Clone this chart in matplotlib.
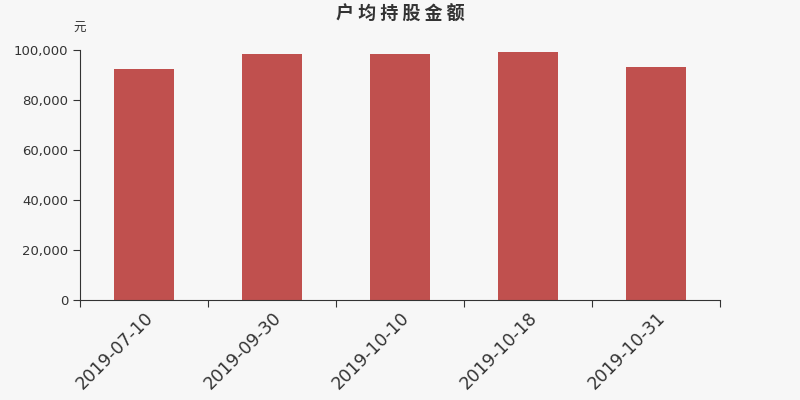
import numpy as np
import matplotlib.pyplot as plt
from matplotlib.ticker import FuncFormatter

plt.rcParams['font.family'] = ['DejaVu Sans', 'Noto Sans CJK SC']

# 数据
fechas = ['2019-07-10', '2019-09-30', '2019-10-10', '2019-10-18', '2019-10-31']
valores = [92500, 98400, 98500, 99100, 93100]

bg = '#f7f7f7'
fig = plt.figure(figsize=(8, 4), dpi=100, facecolor=bg)
ax = fig.add_axes([0.1, 0.25, 0.8, 0.625], facecolor=bg)

x = np.arange(len(fechas))
ax.bar(x, valores, width=0.47, color='#c0504e')

ax.set_xlim(-0.5, len(fechas) - 0.5)
ax.set_ylim(0, 100000)
ax.set_yticks(np.arange(0, 100001, 20000))
ax.yaxis.set_major_formatter(FuncFormatter(lambda v, p: f'{int(v):,}'))

# marcas en los límites de categoría, etiquetas en el centro
ax.set_xticks(np.arange(-0.5, len(fechas), 1.0))
ax.set_xticklabels([])
ax.set_xticks(x, minor=True)
ax.set_xticklabels(fechas, minor=True, rotation=45, ha='right', va='top',
                   rotation_mode='anchor', fontsize=12.5, color='#333333')
ax.tick_params(axis='x', which='minor', length=0, pad=6)
ax.tick_params(axis='x', which='major', length=5, color='#333333')
ax.tick_params(axis='y', length=5, color='#333333', labelsize=9.5, labelcolor='#333333')

for s in ['top', 'right']:
    ax.spines[s].set_visible(False)
for s in ['left', 'bottom']:
    ax.spines[s].set_color('#333333')

fig.text(0.5, 0.965, '户 均 持 股 金 额', ha='center', va='center', fontsize=13,
         fontweight='bold', color='#333333', family=['Noto Sans CJK SC'])
fig.text(0.1, 0.93, '元', ha='center', va='center', fontsize=9, color='#333333',
         family=['Noto Sans CJK SC'])

fig.savefig('out.png', dpi=100, facecolor=bg)
